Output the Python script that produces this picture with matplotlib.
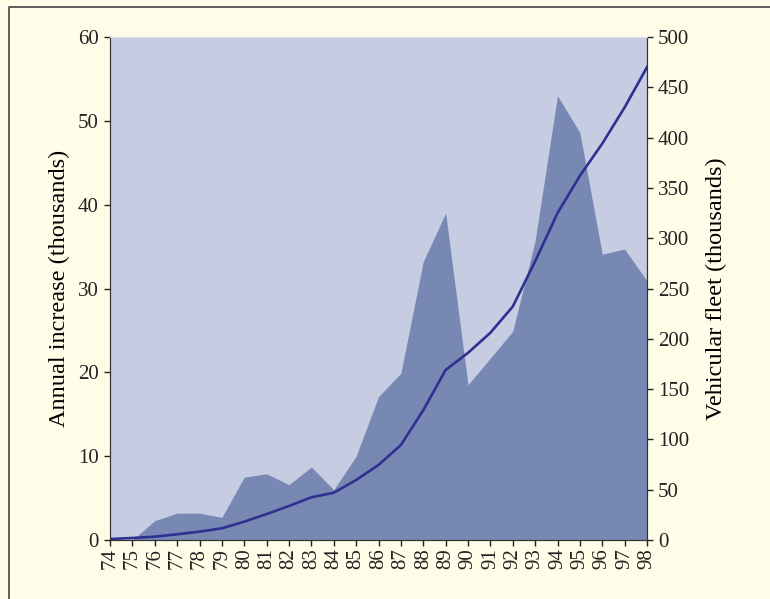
import matplotlib.pyplot as plt
from matplotlib.lines import Line2D

years = list(range(74, 99))
year_labels = [str(y) for y in years]

# annual increase (thousands), area
annual_increase = [0, 0, 2.3, 3.2, 3.2, 2.7, 7.5, 7.9, 6.6, 8.7, 6.0, 10.0, 17.1,
                   19.9, 33.2, 39.0, 18.5, 21.7, 24.9, 35.7, 53.0, 48.6, 34.1, 34.7, 30.9]

# vehicular fleet (thousands), line
fleet = [1, 2, 3.3, 5.7, 8.3, 11.6, 18.2, 25.8, 33.8, 42.4, 47, 59.6, 74.6,
         94.4, 129, 169, 186, 206, 232, 277, 325, 362, 394, 430, 470]

plt.rcParams['font.family'] = ['Liberation Serif', 'DejaVu Serif']

fig = plt.figure(figsize=(7.7, 5.99), dpi=100)
fig.patch.set_facecolor('#FFFDE8')
fig.patch.set_linewidth(0)
# frame line on left and top only (rest runs off the picture)
fx, fy = 8.5 / 770, 1 - 6.5 / 599
fig.add_artist(Line2D([fx, fx, 1.01], [-0.01, fy, fy], transform=fig.transFigure,
                      color='#444444', linewidth=1.2))

ax1 = fig.add_axes([110 / 770, 59 / 599, 537 / 770, 503 / 599])
ax1.set_facecolor('#C6CCE1')
ax1.fill_between(years, annual_increase, 0, color='#7788B3', linewidth=0)
ax1.set_xlim(74, 98)
ax1.set_ylim(0, 60)
ax1.set_yticks(range(0, 61, 10))
ax1.set_xticks(years)
ax1.set_xticklabels(year_labels, rotation=90)
ax1.set_ylabel('Annual increase (thousands)', fontsize=17.5, labelpad=6)

ax2 = ax1.twinx()
ax2.plot(years, fleet, color='#2E3192', linewidth=1.9)
ax2.set_ylim(0, 500)
ax2.set_yticks(range(0, 501, 50))
ax2.set_ylabel('Vehicular fleet (thousands)', fontsize=17.5, labelpad=12)
ax2.patch.set_visible(False)

for ax in (ax1, ax2):
    ax.tick_params(labelsize=15, length=4, width=1, direction='out',
                   colors='#222222')
    ax.tick_params(axis='y', pad=4)
    ax.tick_params(axis='x', pad=2)
    ax.spines['top'].set_color('#DDDDEE')
    ax.spines['left'].set_color('#333333')
    ax.spines['right'].set_color('#333333')
    ax.spines['bottom'].set_color('#333333')

fig.savefig('out.png', dpi=100, facecolor=fig.get_facecolor())
